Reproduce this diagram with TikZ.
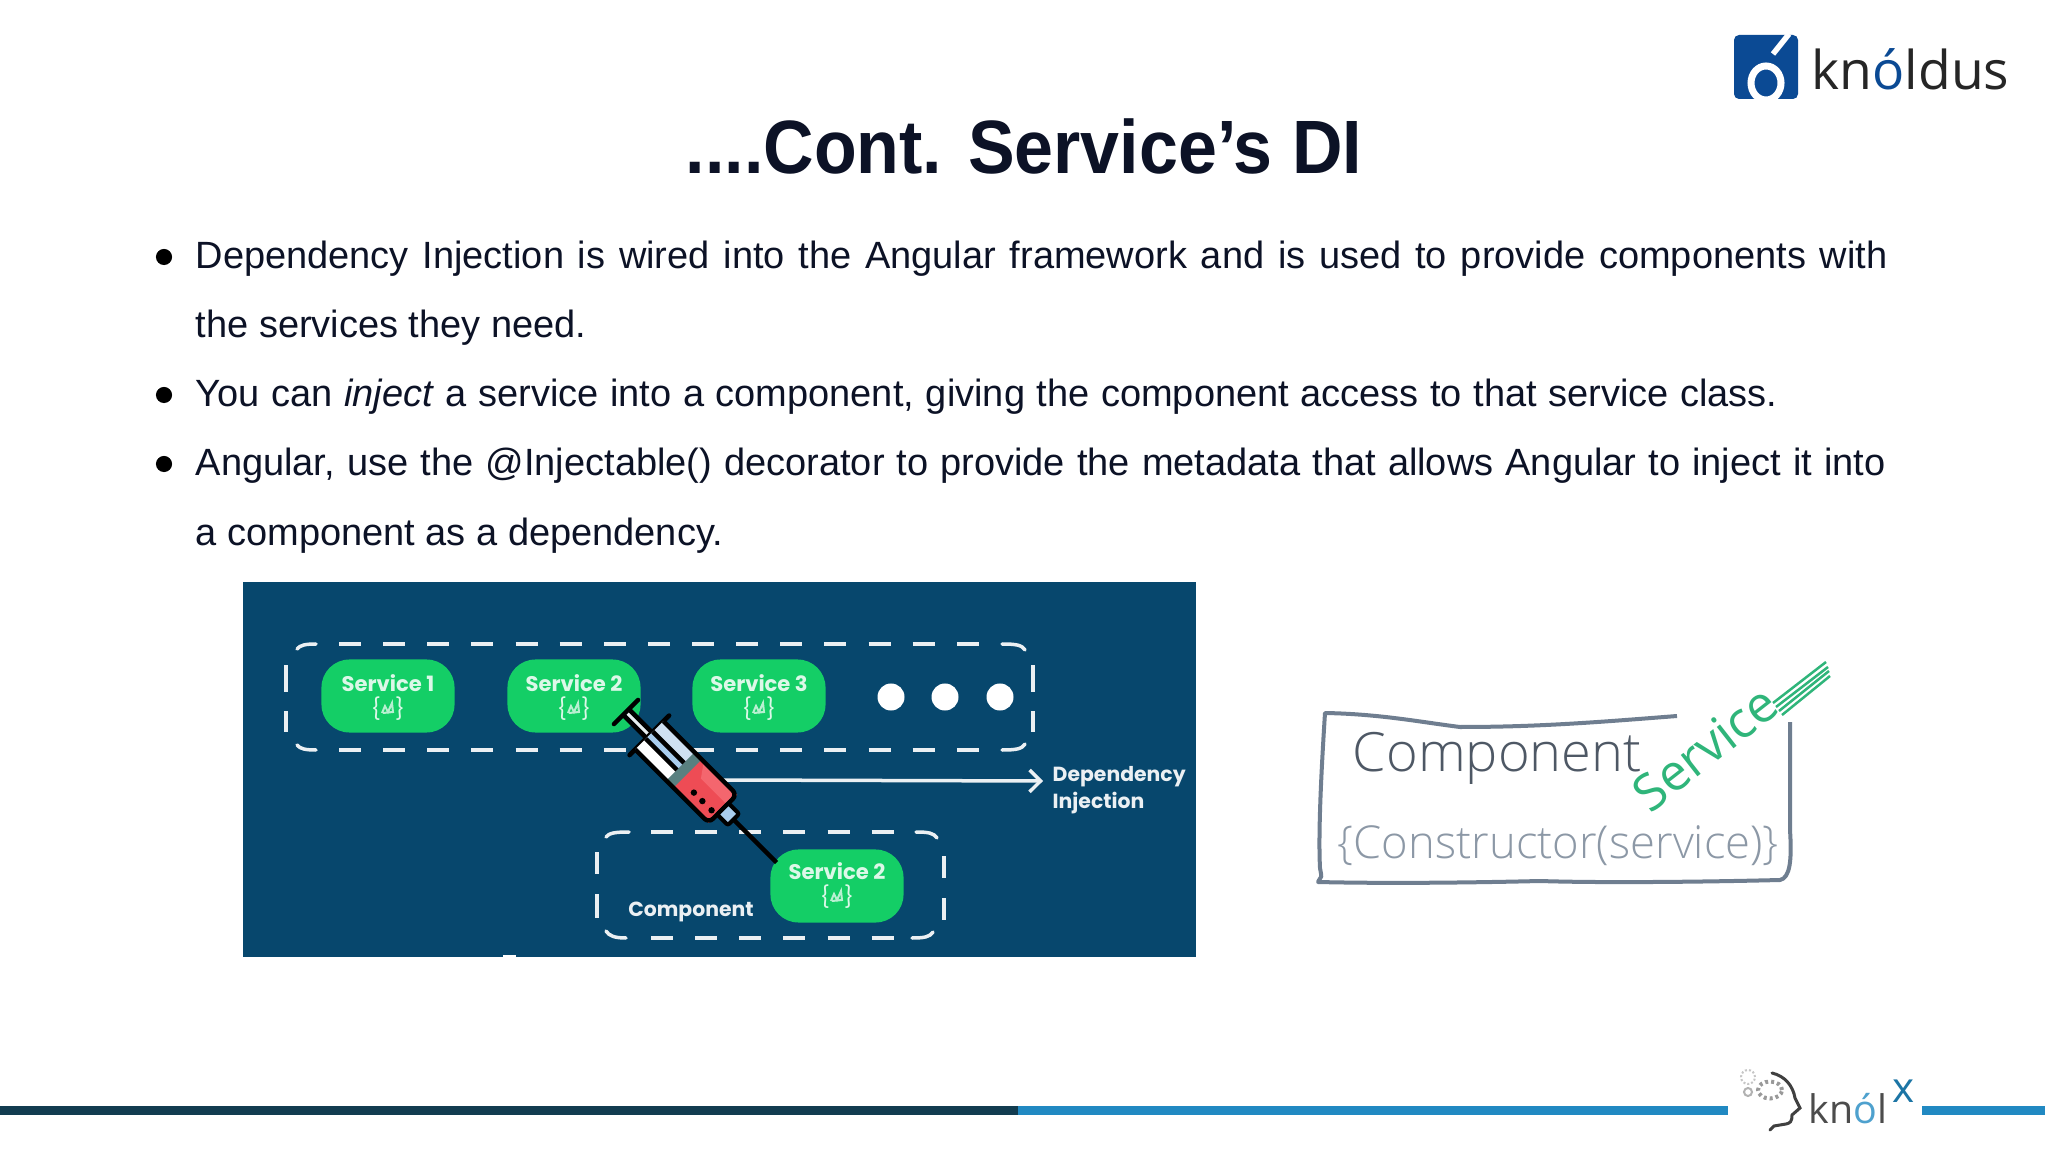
\documentclass[tikz,border=0pt]{standalone}
\usepackage{fontspec}
\setmainfont{Liberation Sans}
\newfontfamily\titlefont[FakeStretch=0.925]{Liberation Sans}
\newfontfamily\boxfont{Poppins}
\newfontfamily\logofont{Open Sans}
\newfontfamily\sketchfont{Open Sans Light}
\usetikzlibrary{arrows.meta}

\definecolor{slidenavy}{HTML}{0C1226}
\definecolor{panelblue}{HTML}{07476D}
\definecolor{servicegreen}{HTML}{14CE66}
\definecolor{ruledark}{HTML}{123C50}
\definecolor{ruleblue}{HTML}{2189C2}
\definecolor{logoblue}{HTML}{0B4A94}
\definecolor{sketchgray}{HTML}{6F7E90}
\definecolor{sketchgreen}{HTML}{2FB57A}
\definecolor{syringered}{HTML}{EE4C55}
\definecolor{syringelight}{HTML}{F4666E}
\definecolor{barrelblue}{HTML}{CFE0F2}
\definecolor{stripblue}{HTML}{A9CDEE}

\tikzset{
  bodyline/.style={anchor=base west,inner sep=0pt,text=slidenavy,font=\fontsize{10.8}{12}\selectfont},
  bulletdot/.style={circle,fill=black,inner sep=0pt,minimum size=0.161cm},
  servicebox/.style={draw=none,fill=servicegreen,rounded corners=0.28cm,minimum width=1.33cm,minimum height=0.73cm,inner sep=0pt},
  servicetext/.style={text=white!85!servicegreen,inner sep=0pt,font=\boxfont\fontsize{6}{7}\selectfont\bfseries},
  icontext/.style={text=white!85!servicegreen,inner sep=0pt,font=\boxfont\fontsize{6}{7}\selectfont},
  iconmark/.style={draw=white!70!servicegreen,line width=0.02cm},
  dashline/.style={draw=white!92!panelblue,line width=0.035cm,dash pattern=on 0.22cm off 0.221cm},
  sideline/.style={draw=white!92!panelblue,line width=0.035cm},
  whitedot/.style={circle,fill=white,inner sep=0pt,minimum size=0.27cm},
  paneltext/.style={text=white!92!panelblue,inner sep=0pt,font=\boxfont\fontsize{5.8}{7.6}\selectfont\bfseries},
  hatch/.style={draw=sketchgreen,line width=0.025cm},
  syringeline/.style={draw=black,line width=0.045cm,line join=round},
  sketchword/.style={inner sep=0pt,anchor=base west},
}

\begin{document}
\begin{tikzpicture}[x=0.01cm,y=-0.01cm]
\useasboundingbox (0,0) rectangle (2048,1152);
\fill[white] (0,0) rectangle (2048,1152);

% Title
\node[anchor=base,inner sep=0pt,text=slidenavy,font=\titlefont\fontsize{21.5}{24}\selectfont\bfseries] (title) at (1024,174) {....Cont. Service’s DI};

% Bullets
\node[bulletdot] (dotone) at (164,257) {};
\node[bulletdot] (dottwo) at (164,395) {};
\node[bulletdot] (dotthree) at (164,464) {};

% Body text
\node[bodyline] (lineone) at (195,269) {\makebox[16.91cm][s]{Dependency Injection is wired into the Angular framework and is used to provide components with}};
\node[bodyline] (linetwo) at (195,338) {the services they need.};
\node[bodyline] (linethree) at (195,407) {\makebox[15.81cm][s]{You can \textit{inject} a service into a component, giving the component access to that service class.}};
\node[bodyline] (linefour) at (195,476) {\makebox[16.89cm][s]{Angular, use the @Injectable() decorator to provide the metadata that allows Angular to inject it into}};
\node[bodyline] (linefive) at (195,545) {a component as a dependency.};

% Blue panel
\fill[panelblue] (243,582) rectangle (1196,957);
\fill[white] (503,955) rectangle (516,957);

% Upper dashed frame
\draw[dashline] (339,644) -- (982,644);
\draw[dashline] (339,750) -- (982,750);
\draw[sideline,line cap=round] (297,649) .. controls (300,645) and (306,644) .. (316,644);
\draw[sideline,line cap=round] (1002,644) .. controls (1016,644) and (1022,645) .. (1025,650);
\draw[sideline,line cap=round] (297,745) .. controls (300,749) and (306,750) .. (316,750);
\draw[sideline,line cap=round] (1002,750) .. controls (1016,750) and (1022,749) .. (1025,744);
\draw[sideline] (286,665) -- (286,692);
\draw[sideline] (286,711) -- (286,732);
\draw[sideline] (1033,665) -- (1033,692);
\draw[sideline] (1033,711) -- (1033,732);

% Lower dashed frame
\draw[dashline] (651,832) -- (895,832);
\draw[dashline] (651,938) -- (895,938);
\draw[sideline,line cap=round] (606,837) .. controls (609,833) and (615,832) .. (629,832);
\draw[sideline,line cap=round] (916,832) .. controls (928,832) and (934,833) .. (937,838);
\draw[sideline,line cap=round] (606,931) .. controls (609,936) and (615,938) .. (626,938);
\draw[sideline,line cap=round] (912,938) .. controls (924,938) and (930,937) .. (933,932);
\draw[sideline] (597,852) -- (597,874);
\draw[sideline] (597,894) -- (597,918);
\draw[sideline] (944,856) -- (944,878);
\draw[sideline] (944,898) -- (944,920);

% Service boxes
\node[servicebox] (serviceone) at (388,696) {};
\node[servicebox] (servicetwo) at (574,696) {};
\node[servicebox] (servicethree) at (759,696) {};
\node[servicebox] (servicefour) at (837,886) {};

\node[servicetext] (labelone) at (388,683) {Service 1};
\node[servicetext] (labeltwo) at (574,683) {Service 2};
\node[servicetext] (labelthree) at (759,683) {Service 3};
\node[servicetext] (labelfour) at (837,871) {Service 2};

\node[icontext] (iconone) at (388,709) {\{\,\,\,\,\}};
\node[icontext] (icontwo) at (574,709) {\{\,\,\,\,\}};
\node[icontext] (iconthree) at (759,709) {\{\,\,\,\,\}};
\node[icontext] (iconfour) at (837,897) {\{\,\,\,\,\}};

\draw[iconmark] (382,713) -- (385,706) -- (388,712) -- (392,703) -- (393,712) -- (383,713);
\draw[iconmark] (568,713) -- (571,706) -- (574,712) -- (578,703) -- (579,712) -- (569,713);
\draw[iconmark] (753,713) -- (756,706) -- (759,712) -- (763,703) -- (764,712) -- (754,713);
\draw[iconmark] (831,901) -- (834,894) -- (837,900) -- (841,891) -- (842,900) -- (832,901);

% Dots
\node[whitedot] (dotleft) at (891,697) {};
\node[whitedot] (dotmid) at (945,697) {};
\node[whitedot] (dotright) at (1000,697) {};

% Labels in the panel
\node[paneltext,anchor=base] (component) at (691,916) {Component};
\node[paneltext,anchor=west,align=left] (depinj) at (1052,790) {Dependency\\Injection};

% Arrow to the label
\coordinate (arrowstart) at (722,780);
\coordinate (arrowend) at (1043,781);
\draw[white!92!panelblue,line width=0.035cm,-{Straight Barb[length=0.11cm,width=0.22cm]}] (arrowstart) -- (arrowend);

% Syringe
\begin{scope}[shift={(626,712)},rotate=-45]
  \draw[black,line width=0.045cm] (137,0) -- (213,0);
  \fill[white!90!panelblue] (0,-3) rectangle (36,3);
  \draw[syringeline] (0,-4) -- (36,-4) (0,4) -- (36,4);
  \draw[syringeline,line cap=round] (0,-17) -- (0,17);
  \draw[syringeline,line cap=round] (33,-28) -- (33,28);
  \fill[barrelblue] (33,-20) rectangle (85,0);
  \fill[white] (33,0) rectangle (85,20);
  \fill[stripblue] (33,-5) rectangle (85,5);
  \fill[syringered] (85,-20) -- (137,-20) -- (137,20) -- (85,20) -- cycle;
  \fill[syringelight] (90,-20) -- (137,-20) -- (137,-6) -- (100,-6) -- cycle;
  \fill[gray!70!teal] (77,-20) rectangle (87,20);
  \draw[syringeline,rounded corners=0.06cm] (33,-20) -- (137,-20) -- (137,20) -- (33,20);
  \draw[syringeline] (33,-5) -- (77,-5) (33,5) -- (77,5);
  \fill[black] (105,9) circle (3.2);
  \fill[black] (117,9) circle (3.2);
  \fill[black] (130,9) circle (3.2);
  \filldraw[fill=stripblue,draw=black,line width=0.04cm,rounded corners=0.02cm] (137,-8) rectangle (152,8);
\end{scope}

% Sketch of the component
\draw[sketchgray,line width=0.04cm,line join=round] (1677,716) .. controls (1600,722) and (1540,727) .. (1460,727) .. controls (1420,722) and (1380,714) .. (1325,713) .. controls (1322,760) and (1318,830) .. (1320,868) .. controls (1322,880) and (1322,874) .. (1318,882) .. controls (1400,884) and (1500,882) .. (1540,881) .. controls (1600,883) and (1700,882) .. (1780,880) .. controls (1790,878) and (1792,860) .. (1790,830) -- (1790,722);
\node[sketchword,text=sketchgray!70!black,font=\sketchfont\fontsize{15.4}{18}\selectfont] (compword) at (1352,771) {Component};
\node[sketchword,text=sketchgray!80,font=\sketchfont\fontsize{12.9}{16}\selectfont] (ctorword) at (1337,858) {\{Constructor(service)\}};
\node[inner sep=0pt,text=sketchgreen,rotate=38,anchor=center,font=\logofont\fontsize{14.4}{18}\selectfont] (serviceword) at (1705,748) {Service};
\draw[hatch] (1773,703) -- (1826,662);
\draw[hatch] (1776,707) -- (1828,667);
\draw[hatch] (1779,711) -- (1829,671);
\draw[hatch] (1782,715) -- (1830,676);

% Rule at the bottom
\fill[ruledark] (0,1106) rectangle (1018,1115);
\fill[ruleblue] (1018,1106) rectangle (1728,1115);
\fill[ruleblue] (1922,1106) rectangle (2045,1115);

% Knoldus logo
\fill[logoblue,rounded corners=0.05cm] (1734,35) rectangle (1798,99);
\draw[white,line width=0.07cm] (1766,83) ellipse (0.15cm and 0.17cm);
\draw[white,line width=0.055cm] (1773,54) -- (1789,34);
\fill[white] (1740,99.5) rectangle (1792,106);
\node[sketchword,text=black!85,font=\logofont\fontsize{15.2}{18}\selectfont] (knoldus) at (1811,90) {kn\textcolor{logoblue}{ó}ldus};

% Knolx logo
\draw[black!75,line width=0.03cm,line cap=round] (1772,1073) .. controls (1785,1076) and (1793,1086) .. (1795,1098) -- (1800,1108) -- (1792,1115) .. controls (1792,1122) and (1790,1123) .. (1786,1124) -- (1774,1126) -- (1770,1130);
\draw[gray!80,line width=0.04cm,dash pattern=on 0.03cm off 0.03cm] (1770,1090) ellipse (0.12cm and 0.085cm);
\draw[gray!45,line width=0.02cm,dash pattern=on 0.02cm off 0.02cm] (1748,1077) circle (0.07cm);
\draw[gray!60,line width=0.02cm] (1748,1092) circle (0.04cm);
\node[sketchword,text=black!70,font=\logofont\fontsize{11.2}{13}\selectfont] (knolx) at (1808,1123) {kn\textcolor{ruleblue!80!white}{ó}l};
\node[sketchword,text=ruleblue!85!black,font=\logofont\fontsize{12}{13}\selectfont] (knolxsup) at (1892,1102) {x};
\end{tikzpicture}
\end{document}
